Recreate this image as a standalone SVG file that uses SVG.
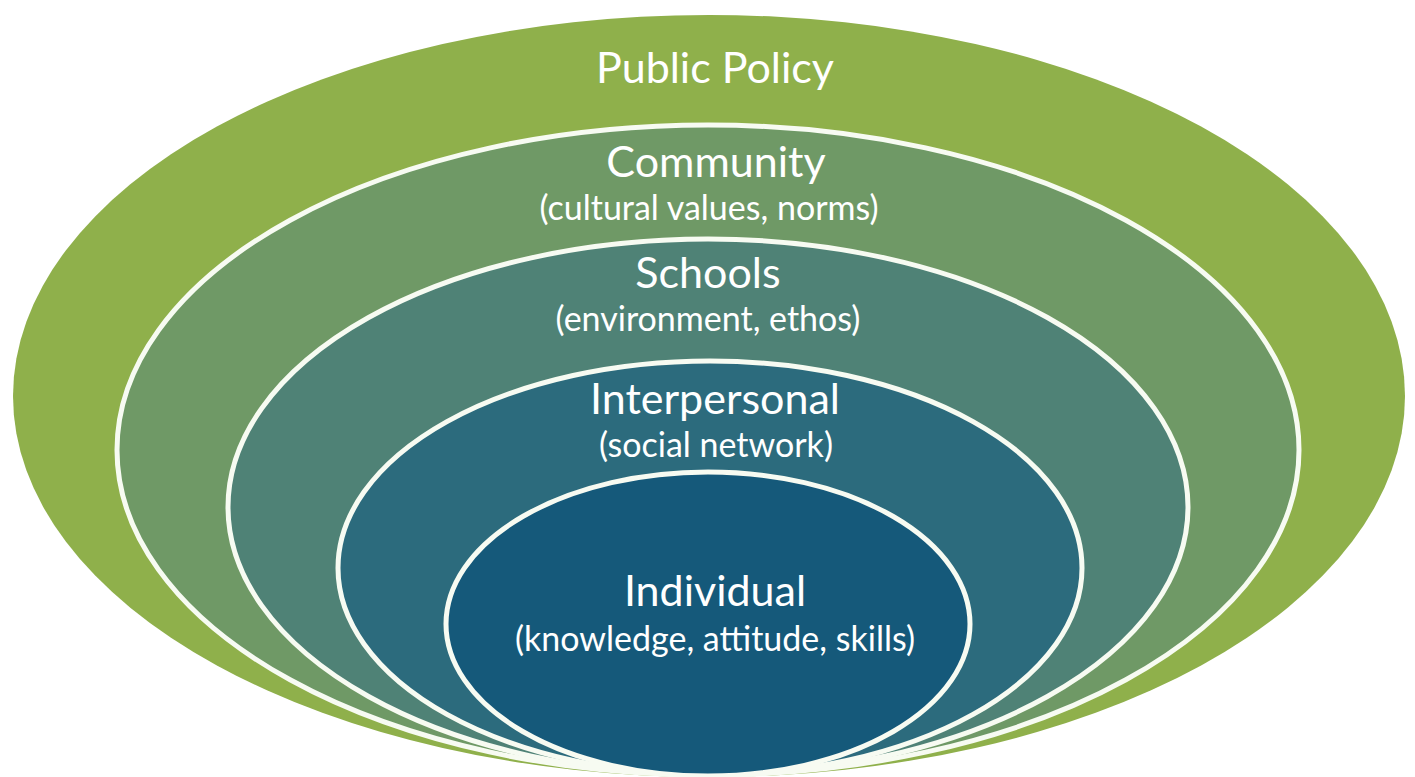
<svg xmlns="http://www.w3.org/2000/svg" width="1415" height="777" viewBox="0 0 1415 777">
<style>
.ring{stroke:#f7fbf2;stroke-width:5}
.t{fill:#ffffff;font-family:Lato,"Noto Sans",sans-serif;text-anchor:middle}
.h{font-size:43px}
.s{font-size:34px}
</style>
<rect width="1415" height="777" fill="#ffffff"/>
<g id="public-policy">
<ellipse cx="709" cy="396" rx="696" ry="381" fill="#8fb04b"/>
<text class="t h" x="715" y="83">Public Policy</text>
</g>
<g id="community">
<ellipse class="ring" cx="708" cy="450" rx="591" ry="325" fill="#6f9966"/>
<text class="t h" x="716" y="177">Community</text>
<text class="t s" x="709" y="220">(cultural values, norms)</text>
</g>
<g id="schools">
<ellipse class="ring" cx="708" cy="507" rx="480" ry="268" fill="#4f8276"/>
<text class="t h" x="708" y="288">Schools</text>
<text class="t s" x="708" y="331">(environment, ethos)</text>
</g>
<g id="interpersonal">
<ellipse class="ring" cx="710" cy="568" rx="372" ry="207" fill="#2c6b7d"/>
<text class="t h" x="715" y="414">Interpersonal</text>
<text class="t s" x="716" y="457">(social network)</text>
</g>
<g id="individual">
<ellipse class="ring" cx="708" cy="624" rx="262" ry="152" fill="#15597a"/>
<text class="t h" x="715" y="606">Individual</text>
<text class="t s" x="715" y="651">(knowledge, attitude, skills)</text>
</g>
<g id="connectors"/>
</svg>
